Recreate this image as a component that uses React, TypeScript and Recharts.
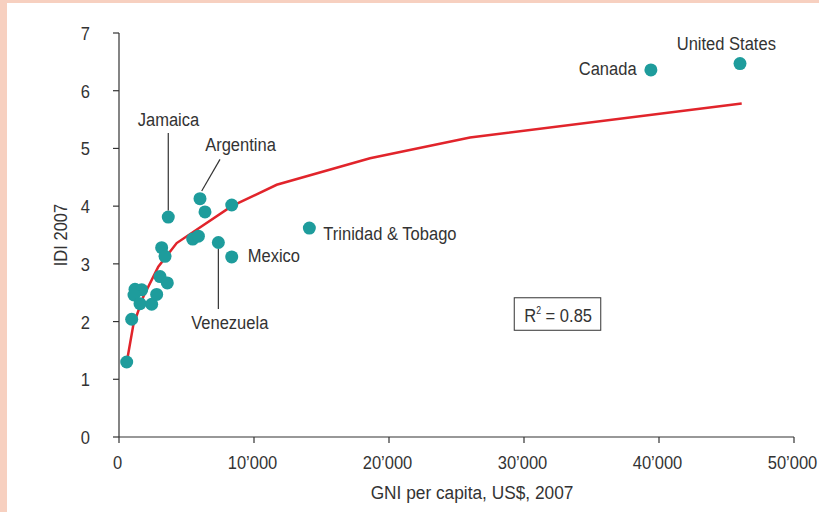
import React from "react";
import { ComposedChart, Scatter, Line, XAxis, YAxis, ReferenceDot } from "recharts";

const countryNames = ["", "", "", "", "", "", "", "", "", "", "", "", "Jamaica", "", "", "Argentina", "", "Venezuela", "", "Mexico", "Trinidad & Tobago", "Canada", "United States"];
const gniValues = [570, 940, 1185, 1680, 1110, 1555, 2420, 2790, 3040, 3580, 3160, 3410, 3650, 5460, 5880, 6000, 6370, 7360, 8350, 8350, 14100, 39400, 46000];
const idiValues = [1.3, 2.04, 2.56, 2.55, 2.46, 2.31, 2.3, 2.47, 2.78, 2.67, 3.28, 3.13, 3.81, 3.43, 3.48, 4.13, 3.9, 3.37, 4.02, 3.12, 3.62, 6.36, 6.47];

const trendGni = [519, 1059, 1800, 2911, 4274, 8348, 11681, 18593, 26000, 46126];
const trendIdi = [1.22, 1.94, 2.43, 2.95, 3.36, 4.0, 4.37, 4.83, 5.19, 5.78];

const xTicks = [0, 10000, 20000, 30000, 40000, 50000];
const yTicks = [0, 1, 2, 3, 4, 5, 6, 7];
const rSquaredLabel = "0.85";
const rBoxGni = 32500;
const rBoxIdi = 2.13;

const scatterData = gniValues.map((g, i) => ({ gni: g, idi: idiValues[i], name: countryNames[i] }));
const trendData = trendGni.map((g, i) => ({ gni: g, fit: trendIdi[i] }));

const FONT = "'Liberation Sans', Arial, sans-serif";
const FS = 19;
const SX = 0.87;
const TEXT = "#333333";
const TEAL = "#1e9c9c";
const RED = "#e1242b";

const NText = ({ x, y, anchor = "start", children, rotate = 0, sx = SX }: any) => (
  <text
    transform={`translate(${x},${y}) rotate(${rotate}) scale(${sx},1)`}
    x={0}
    y={0}
    textAnchor={anchor}
    fontFamily={FONT}
    fontSize={FS}
    fill={TEXT}
  >
    {children}
  </text>
);

type Ann = { dx: number; dy: number; anchor: "start" | "middle" | "end"; line?: [number, number, number, number] };
const annotations: Record<string, Ann> = {
  "Jamaica": { dx: 0.2, dy: -90.7, anchor: "middle", line: [0, -84, 0, -6.7] },
  "Argentina": { dx: 40.5, dy: -47.3, anchor: "middle", line: [20, -39.3, 1.7, -7.6] },
  "Venezuela": { dx: 11.4, dy: 86.3, anchor: "middle", line: [0, 6.6, 0, 66.6] },
  "Mexico": { dx: 16, dy: 4.6, anchor: "start" },
  "Trinidad & Tobago": { dx: 14, dy: 11.6, anchor: "start" },
  "Canada": { dx: -14.3, dy: 5, anchor: "end" },
  "United States": { dx: -13.7, dy: -13.3, anchor: "middle" },
};

const fmt = (v: number) => {
  if (v === 0) return "0";
  const th = Math.floor(v / 1000);
  return th + "\u2019000";
};

const XTick = (props: any) => {
  const { x, y, payload } = props;
  return <NText x={x - 1.5} y={y + 14} anchor="middle">{fmt(payload.value)}</NText>;
};

const YTick = (props: any) => {
  const { x, y, payload } = props;
  return <NText x={x} y={y + 7} anchor="end">{String(payload.value)}</NText>;
};

const DotShape = (props: any) => {
  const { cx, cy, payload } = props;
  const a = payload && payload.name ? annotations[payload.name] : undefined;
  return (
    <g>
      <circle cx={cx} cy={cy} r={6.5} fill={TEAL} />
      {a && a.line && (
        <line x1={cx + a.line[0]} y1={cy + a.line[1]} x2={cx + a.line[2]} y2={cy + a.line[3]} stroke="#333" strokeWidth={1.2} />
      )}
      {a && (
        <NText x={cx + a.dx} y={cy + a.dy} anchor={a.anchor}>
          {payload.name}
        </NText>
      )}
    </g>
  );
};

const RBox = (props: any) => {
  const { cx, cy } = props;
  return (
    <g>
      <rect x={cx - 43.5} y={cy - 16.3} width={86.5} height={32.5} fill="#fff" stroke="#333" strokeWidth={1} />
      <text
        transform={`translate(${cx - 33.5},${cy + 7.5}) scale(${SX},1)`}
        x={0}
        y={0}
        fontFamily={FONT}
        fontSize={FS}
        fill={TEXT}
      >
        R
        <tspan fontSize={10} dy={-8}>2</tspan>
        <tspan dy={8}>{" = " + rSquaredLabel}</tspan>
      </text>
    </g>
  );
};

export default function App() {
  return (
    <div style={{ position: "fixed", left: 0, top: 0, width: 819, height: 512, background: "#f7d0c0", overflow: "visible" }}>
      <div style={{ position: "absolute", left: 7, top: 3, width: 812, height: 509, background: "#ffffff" }} />
      <div style={{ position: "absolute", left: 0, top: 0, width: 819, height: 512 }}>
        <ComposedChart width={819} height={512} margin={{ top: 33, right: 25, bottom: 0, left: 59 }} style={{ overflow: "visible" }}>
          <XAxis
            dataKey="gni"
            type="number"
            domain={[0, 50000]}
            ticks={xTicks}
            height={75}
            tickSize={6}
            tickMargin={12}
            axisLine={{ stroke: "#333", strokeWidth: 1.2 }}
            tickLine={{ stroke: "#333", strokeWidth: 1.2 }}
            tick={<XTick />}
            allowDataOverflow
            label={{
              content: (p: any) => {
                const vb = p.viewBox || {};
                return (
                  <NText x={vb.x + vb.width / 2 + 15.5} y={vb.y + 62} anchor="middle" sx={0.91}>
                    GNI per capita, US$, 2007
                  </NText>
                );
              },
            }}
          />
          <YAxis
            type="number"
            domain={[0, 7]}
            ticks={yTicks}
            width={60}
            tickSize={6}
            tickMargin={23}
            axisLine={{ stroke: "#333", strokeWidth: 1.2 }}
            tickLine={{ stroke: "#333", strokeWidth: 1.2 }}
            tick={<YTick />}
            label={{
              content: (p: any) => {
                const vb = p.viewBox || {};
                const x = vb.x + 7.5;
                const y = vb.y + vb.height / 2;
                return (
                  <NText x={x} y={y} rotate={-90} anchor="middle">
                    IDI 2007
                  </NText>
                );
              },
            }}
          />
          <Scatter data={scatterData} dataKey="idi" shape={DotShape} isAnimationActive={false} />
          <Line data={trendData} dataKey="fit" type="linear" stroke={RED} strokeWidth={2.5} dot={false} activeDot={false} isAnimationActive={false} />
          <ReferenceDot x={rBoxGni} y={rBoxIdi} shape={RBox} />
        </ComposedChart>
      </div>
    </div>
  );
}
